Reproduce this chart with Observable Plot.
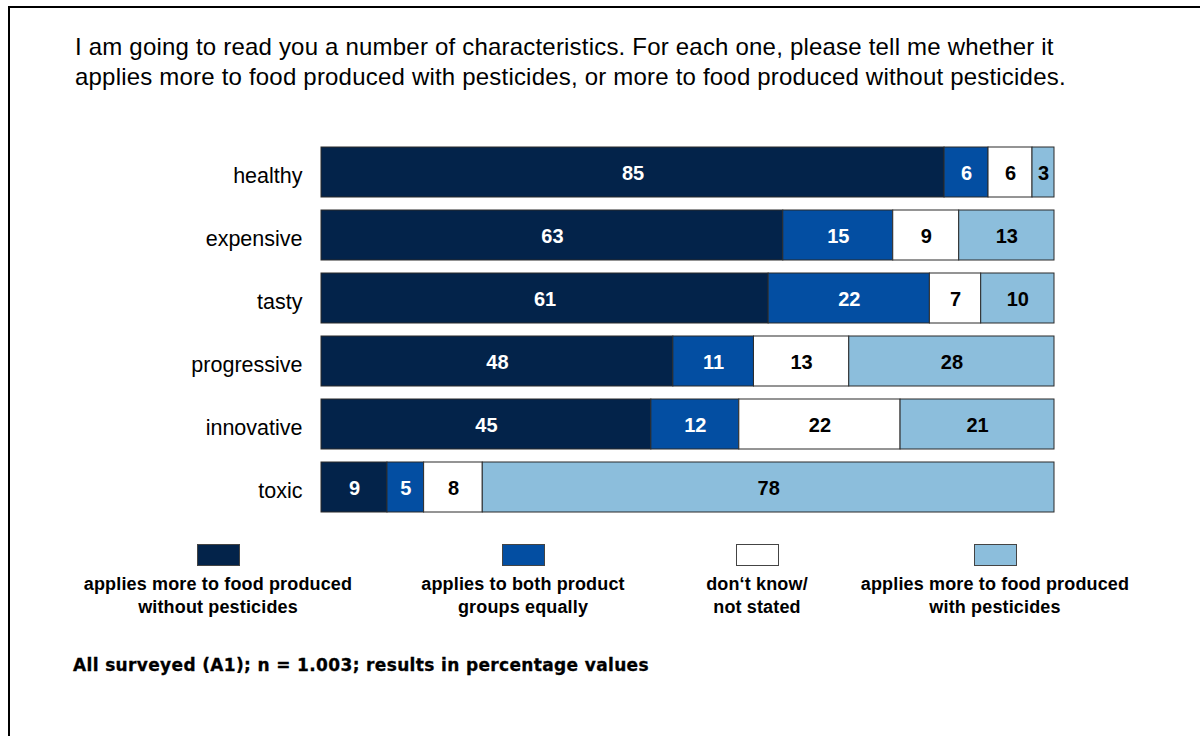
<!DOCTYPE html>
<html>
<head>
<meta charset="utf-8">
<script src="https://cdn.jsdelivr.net/npm/d3@7"></script>
<script src="https://cdn.jsdelivr.net/npm/@observablehq/plot@0.6"></script>
<style>
  html, body { margin: 0; padding: 0; background: #fff; }
  body { width: 1200px; height: 736px; position: relative; overflow: hidden; font-family: "Liberation Sans", Arial, sans-serif; color: #000; }
  #frame { position: absolute; left: 8px; top: 6px; width: 1300px; height: 900px; border-left: 2px solid #000; border-top: 2px solid #000; }
  #title { position: absolute; left: 75px; top: 32px; font-size: 24px; letter-spacing: 0.2px; line-height: 30px; white-space: nowrap; }
  #chart { position: absolute; left: 0; top: 120px; }
  .leg { position: absolute; top: 544px; width: 320px; margin-left: -160px; text-align: center; }
  .sw { width: 43px; height: 22px; margin: 0 auto; border: 1px solid #444; box-sizing: border-box; }
  .lt { margin-top: 7px; font-weight: bold; font-size: 18px; letter-spacing: 0.15px; line-height: 23px; }
  #foot { position: absolute; left: 73px; top: 655px; font-family: "DejaVu Sans", sans-serif; font-weight: bold; font-size: 17px; letter-spacing: 0.35px; white-space: nowrap; -webkit-text-stroke: 0.3px #000; }
</style>
</head>
<body>
<div id="frame"></div>
<div id="title"></div>
<div id="chart"></div>
<div id="legend"></div>
<div id="foot"></div>
<script>
const titleLines = [
  "I am going to read you a number of characteristics. For each one, please tell me whether it",
  "applies more to food produced with pesticides, or more to food produced without pesticides."
];
const categories = ["healthy", "expensive", "tasty", "progressive", "innovative", "toxic"];
const seriesNames = [
  "applies more to food produced without pesticides",
  "applies to both product groups equally",
  "don‘t know/ not stated",
  "applies more to food produced with pesticides"
];
const legendLines = [
  ["applies more to food produced", "without pesticides"],
  ["applies to both product", "groups equally"],
  ["don‘t know/", "not stated"],
  ["applies more to food produced", "with pesticides"]
];
const withoutPesticides = [85, 63, 61, 48, 45, 9];
const bothEqually = [6, 15, 22, 11, 12, 5];
const dontKnow = [6, 9, 7, 13, 22, 8];
const withPesticides = [3, 13, 10, 28, 21, 78];
const seriesColors = ["#03234A", "#034EA2", "#FFFFFF", "#8CBEDC"];
const labelColors = ["#FFFFFF", "#FFFFFF", "#000000", "#000000"];
const footnote = "All surveyed (A1); n = 1.003; results in percentage values";

const seriesValues = [withoutPesticides, bothEqually, dontKnow, withPesticides];
const data = [];
seriesValues.forEach((vals, s) => {
  categories.forEach((c, i) => data.push({cat: c, s, value: vals[i]}));
});

document.getElementById("title").innerHTML = titleLines.map(t => `<div>${t}</div>`).join("");

const chart = Plot.plot({
  width: 1200,
  height: 420,
  marginLeft: 321,
  marginRight: 146,
  marginTop: 14.4,
  marginBottom: 15,
  x: {domain: [0, 100], axis: null},
  y: {domain: categories, padding: 0.2, axis: null},
  color: {type: "identity"},
  style: {fontFamily: "'Liberation Sans', Arial, sans-serif", fontSize: "21px", color: "#000", background: "transparent"},
  marks: [
    Plot.axisY({tickSize: 0, tickPadding: 19, label: null, fontSize: 21.5, dy: 4}),
    Plot.barX(data, Plot.stackX({x: "value", y: "cat", fill: d => seriesColors[d.s], stroke: "#2b2b2b", strokeWidth: 1})),
    Plot.text(data, Plot.stackX({x: "value", y: "cat", text: d => String(d.value), fill: d => labelColors[d.s], fontWeight: "bold", fontSize: 20, dy: 1}))
  ]
});
document.getElementById("chart").appendChild(chart);

const legendX = [218, 523, 757, 995];
const legend = document.getElementById("legend");
seriesNames.forEach((name, i) => {
  const el = document.createElement("div");
  el.className = "leg";
  el.style.left = legendX[i] + "px";
  el.title = name;
  el.innerHTML = `<div class="sw" style="background:${seriesColors[i]}"></div><div class="lt">${legendLines[i].join("<br>")}</div>`;
  legend.appendChild(el);
});

document.getElementById("foot").textContent = footnote;
</script>
</body>
</html>
